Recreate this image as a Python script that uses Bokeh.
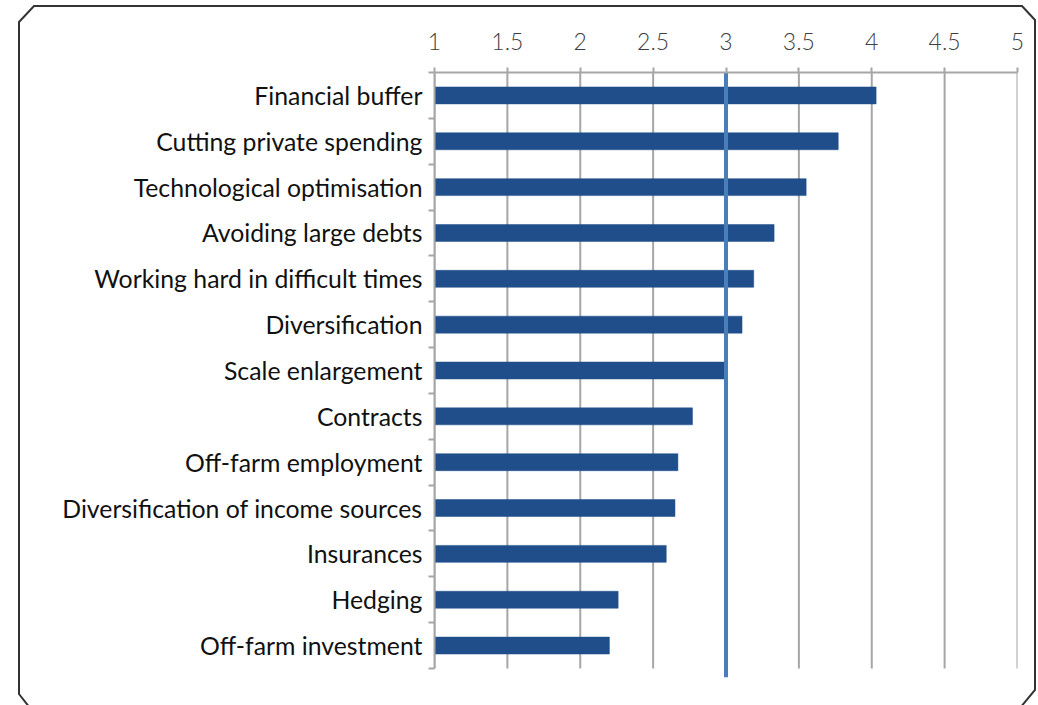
from bokeh.plotting import figure
from bokeh.models import Range1d, FixedTicker, NumeralTickFormatter
from bokeh.embed import file_html
from bokeh.resources import INLINE

# ---- data ----
categories = [
    "Financial buffer",
    "Cutting private spending",
    "Technological optimisation",
    "Avoiding large debts",
    "Working hard in difficult times",
    "Diversification",
    "Scale enlargement",
    "Contracts",
    "Off-farm employment",
    "Diversification of income sources",
    "Insurances",
    "Hedging",
    "Off-farm investment",
]
scores = [4.03, 3.77, 3.55, 3.33, 3.19, 3.11, 3.00, 2.77, 2.67, 2.65, 2.59, 2.26, 2.20]
x_ticks = [1, 1.5, 2, 2.5, 3, 3.5, 4, 4.5, 5]
reference_value = 3
x_start, x_end = 1, 5

# ---- layout numbers ----
W, H = 1038, 705
frame_left, frame_right, frame_top, frame_bottom = 434, 1017, 72, 677
n = len(categories)
ypos = list(range(n))
unit = (668 - frame_top) / n
extra = (frame_bottom - 668) / unit

BAR = "#1F4E8A"
GRID = "#A6A6A6"

# chamfered outer frame, drawn as a page background behind the canvas
frame_svg = (
    "data:image/svg+xml;utf8,<svg xmlns='http://www.w3.org/2000/svg' "
    "width='1038' height='705'><polygon "
    "points='19,22 34,6 1022,6 1035,20 1035,690 1020,708 30,708 19,694' "
    "fill='white' stroke='%23333333' stroke-width='2'/></svg>"
)

p = figure(width=W, height=H, output_backend="svg", toolbar_location=None,
           x_range=Range1d(x_start, x_end),
           y_range=Range1d(n - 0.5 + extra, -0.5),
           x_axis_location="above", y_axis_location="left",
           min_border_left=frame_left, min_border_right=W - frame_right,
           min_border_top=frame_top, min_border_bottom=H - frame_bottom,
           styles={"background-color": "white",
                   "background-image": f'url("{frame_svg}")',
                   "background-repeat": "no-repeat"})
p.outline_line_color = None
p.grid.visible = False
p.background_fill_color = "white"
p.border_fill_color = None

# grid lines (stop at last category boundary)
p.segment(x0=x_ticks, x1=x_ticks, y0=[-0.5] * len(x_ticks),
          y1=[n - 0.5] * len(x_ticks), line_color=GRID, line_width=2)

# bars
p.hbar(y=ypos, left=x_start, right=scores, height=0.37, fill_color=BAR,
       line_color=BAR, line_width=0.5)

# reference line
p.segment(x0=[reference_value], x1=[reference_value], y0=[-0.5],
          y1=[n - 0.5 + extra], line_color="#4A7EBB", line_width=4)

# top axis
xa = p.xaxis[0]
xa.ticker = FixedTicker(ticks=x_ticks)
xa.formatter = NumeralTickFormatter(format="0.[0]")
xa.axis_line_color = GRID
xa.axis_line_width = 2
xa.major_tick_line_color = GRID
xa.major_tick_line_width = 2
xa.major_tick_out = 5
xa.major_tick_in = 0
xa.minor_tick_line_color = None
xa.major_label_standoff = 18
xa.major_label_text_font = "Lato Light"
xa.major_label_text_font_size = "23px"
xa.major_label_text_color = "#404040"

# left axis
ya = p.yaxis[0]
ya.ticker = FixedTicker(ticks=ypos, minor_ticks=[i - 0.5 for i in range(n + 1)])
ya.major_label_overrides = {i: c for i, c in zip(ypos, categories)}
ya.bounds = (-0.5, n - 0.5)
ya.axis_line_color = GRID
ya.axis_line_width = 2
ya.major_tick_line_color = None
ya.major_tick_out = 0
ya.major_tick_in = 0
ya.minor_tick_line_color = GRID
ya.minor_tick_line_width = 2
ya.minor_tick_out = 6
ya.minor_tick_in = 0
ya.major_label_standoff = 6
ya.major_label_text_font = "Lato"
ya.major_label_text_font_size = "24.8px"
ya.major_label_text_color = "#111111"

open("out.html", "w").write(file_html(p, INLINE))
